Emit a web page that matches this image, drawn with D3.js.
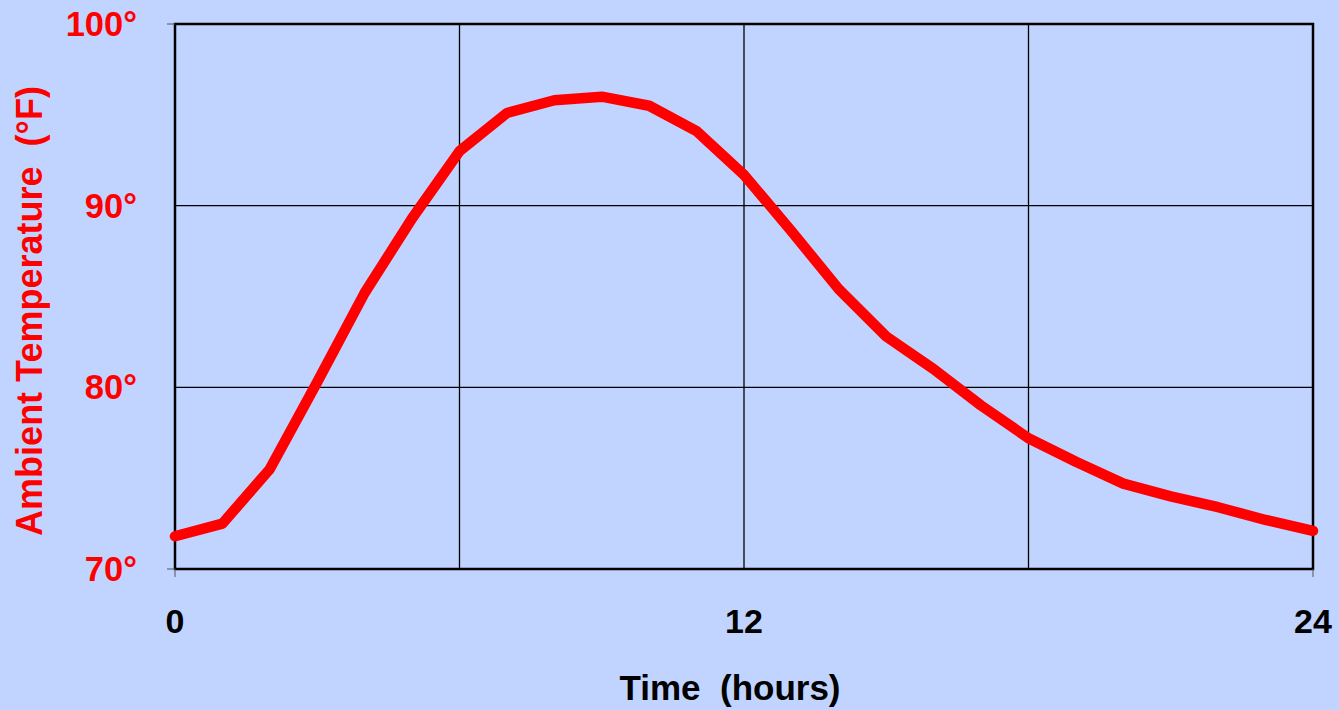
<!DOCTYPE html>
<html>
<head>
<meta charset="utf-8">
<script src="https://cdn.jsdelivr.net/npm/d3@7"></script>
<style>
  html, body { margin: 0; padding: 0; background: #c0d4ff; }
  svg { display: block; }
  text { font-family: "Liberation Sans", Arial, sans-serif; font-weight: bold; }
</style>
</head>
<body>
<svg id="chart"></svg>
<script>
const width = 1339
const height = 710
const margin = {'top': 24, 'left': 175, 'right': 26, 'bottom': 141}

// hourly readings
const hours = d3.range(0, 25)
const temps = [71.8, 72.5, 75.5, 80.3, 85.2, 89.3, 93.0, 95.1, 95.8, 96.0, 95.5, 94.1, 91.7,
  88.6, 85.4, 82.8, 81.0, 79.0, 77.2, 75.9, 74.7, 74.0, 73.4, 72.7, 72.1]
const yTicks = [70, 80, 90, 100]
const xGrid = [0, 6, 12, 18, 24]
const xLabels = [0, 12, 24]

let svg = d3.select('#chart').attr('width', width).attr('height', height)
let innerW = width - margin.left - margin.right
let innerH = height - margin.top - margin.bottom
let g = svg.append('g').attr('transform', `translate(${margin.left},${margin.top})`)

let xScale = d3.scaleLinear().domain([0, 24]).range([0, innerW])
let yScale = d3.scaleLinear().domain([70, 100]).range([innerH, 0])

// grid
g.append('g').selectAll('line.v')
  .data(xGrid.slice(1, -1))
  .enter().append('line')
  .attr('x1', d => xScale(d)).attr('x2', d => xScale(d))
  .attr('y1', 0).attr('y2', innerH)
  .style('stroke', '#000').style('stroke-width', 1.3)
g.append('g').selectAll('line.h')
  .data(yTicks.slice(1, -1))
  .enter().append('line')
  .attr('x1', 0).attr('x2', innerW)
  .attr('y1', d => yScale(d)).attr('y2', d => yScale(d))
  .style('stroke', '#000').style('stroke-width', 1.3)

// frame
g.append('rect')
  .attr('x', 0).attr('y', 0).attr('width', innerW).attr('height', innerH)
  .style('fill', 'none').style('stroke', '#000').style('stroke-width', 2.5)

// small tick marks outside the frame
g.append('line').attr('x1', -8).attr('x2', 0).attr('y1', yScale(100)).attr('y2', yScale(100))
  .style('stroke', '#555').style('stroke-width', 1)
g.append('line').attr('x1', -8).attr('x2', 0).attr('y1', yScale(70)).attr('y2', yScale(70))
  .style('stroke', '#555').style('stroke-width', 1)
g.selectAll('line.xt').data([0, 24]).enter().append('line')
  .attr('x1', d => xScale(d)).attr('x2', d => xScale(d))
  .attr('y1', innerH).attr('y2', innerH + 8)
  .style('stroke', '#555').style('stroke-width', 1)

// y tick labels
g.append('g').selectAll('text')
  .data(yTicks)
  .enter().append('text')
  .attr('x', -38)
  .attr('y', d => yScale(d) + 12)
  .attr('text-anchor', 'end')
  .style('font-size', '34.5px')
  .style('fill', '#ff0000')
  .text(d => d + '°')

// x tick labels
g.append('g').selectAll('text')
  .data(xLabels)
  .enter().append('text')
  .attr('x', d => xScale(d))
  .attr('y', innerH + 64)
  .attr('text-anchor', 'middle')
  .style('font-size', '34px')
  .style('fill', '#000')
  .text(d => d)

// axis titles
svg.append('text')
  .attr('x', 730).attr('y', 700)
  .attr('text-anchor', 'middle')
  .style('font-size', '35px')
  .style('fill', '#000')
  .style('white-space', 'pre')
  .text('Time  (hours)')
svg.append('text')
  .attr('transform', 'translate(42,311) rotate(-90)')
  .attr('text-anchor', 'middle')
  .style('font-size', '36px')
  .style('fill', '#ff0000')
  .style('white-space', 'pre')
  .text('Ambient Temperature  (°F)')

// temperature curve
let line = d3.line()
  .x((d, i) => xScale(hours[i]))
  .y(d => yScale(d))
g.append('path')
  .datum(temps)
  .attr('d', line)
  .style('fill', 'none')
  .style('stroke', '#ff0000')
  .style('stroke-width', 10.5)
  .style('stroke-linejoin', 'round')
  .style('stroke-linecap', 'round')
</script>
</body>
</html>
